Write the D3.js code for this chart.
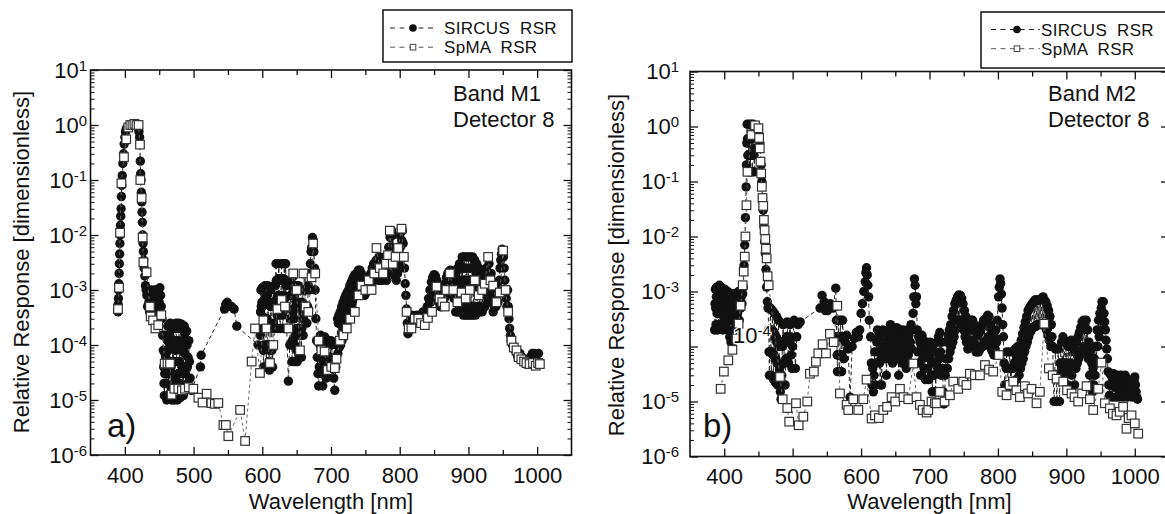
<!DOCTYPE html>
<html><head><meta charset="utf-8">
<script src="https://cdn.jsdelivr.net/npm/d3@7"></script>
<style>body{margin:0;background:#fff;} svg{display:block;font-family:"Liberation Sans",Arial,sans-serif;}</style>
</head><body><svg id="c" width="1165" height="514"></svg>
<script>
// ---------- tick labels / categories ----------
const xMajorTicks=[400,500,600,700,800,900,1000];
const xMinorTicks=[450,550,650,750,850,950];
const yDecades=[1e-6,1e-5,1e-4,1e-3,1e-2,1e-1,1,10];
const seriesNames=["SIRCUS  RSR","SpMA  RSR"];
const panelLabels=["a)","b)"];
const bandLabels=["Band M1","Band M2"];
const detectorLabel="Detector 8";
const xTitle="Wavelength [nm]";
const yTitle="Relative Response [dimensionless]";

// ---------- series values: [wavelength nm, relative response] ----------
const sircusA=[[390,4e-4],[390.3,5.5e-4],[390.6,7e-4],[391,1e-3],[391.3,1.3e-3],[391.7,2e-3],[392,3e-3],[392.4,4.5e-3],[392.8,7e-3],[393.2,1e-2],[393.6,1.5e-2],[394,2.2e-2],[394.5,3e-2],[395,5e-2],[395.6,8e-2],[396.2,0.12],[397,0.2],[398,0.3],[399,0.45],[400,0.6],[401,0.75],[402,0.85],[404,0.93],[406,0.97],[408,1],[411,1],[414,1],[417,1],[419,0.9],[420.5,0.75],[421.5,0.6],[422.5,0.22],[423,0.13],[423.5,0.1],[424,0.06],[424.5,0.04],[425,0.026],[425.5,0.017],[426,0.01],[426.5,0.007],[427,0.005],[427.5,0.0035],[428,0.0025],[429,0.0018],[430,0.0012],[431,0.001],
[432,8e-4],[433,5e-4],[434,1e-3],[435,6e-4],[436,4e-4],[437,9e-4],[438,5e-4],[439,1e-3],[440,7e-4],[441,4.5e-4],[442,9e-4],[443,6e-4],[444,1e-3],[445,5e-4],[446,1e-3],[447,6e-4],[448,4e-4],[449,9e-4],[450,6e-4],[451,1.1e-3],[452,8e-4],[453,5e-4],
[454,3e-4],[455,1.5e-4],[456,8e-5],[456.5,4e-5],[457,2e-5],[457.5,1.2e-5],[458,3e-5],[458.5,7e-5],[459,1.5e-4],[459.5,6e-5],[460,2e-5],[461,1e-5],[461.5,4e-5],[462,1.2e-4],[462.5,2.2e-4],[463,8e-5],[463.5,3e-5],[464,1.2e-5],[465,5e-5],[465.5,1.5e-4],[466,2.5e-4],[466.5,1e-4],[467,4e-5],[467.5,1.5e-5],[468,1e-5],[469,3e-5],[469.5,1e-4],[470,2e-4],[470.5,1.2e-4],[471,5e-5],[471.5,2e-5],[472,1e-5],[473,2.5e-5],[473.5,8e-5],[474,2e-4],[474.5,2.5e-4],[475,1.2e-4],[475.5,5e-5],[476,2e-5],[476.5,1e-5],[477,3e-5],[477.5,9e-5],[478,2e-4],[478.5,2.5e-4],[479,1.2e-4],[479.5,5e-5],[480,2e-5],[480.5,1.1e-5],[481,3e-5],[481.5,8e-5],[482,2e-4],[482.5,2.4e-4],[483,1e-4],[483.5,4e-5],[484,1.5e-5],[485,1.2e-5],[485.5,4e-5],[486,1.2e-4],[486.5,2.2e-4],[487,1.6e-4],[487.5,7e-5],[488,3e-5],[488.5,1.5e-5],[489,4e-5],[489.5,1.1e-4],[490,1.8e-4],[490.5,1e-4],[491,4e-5],[491.5,2e-5],[492,6e-5],[493,1.2e-4],[494,5e-5],[495,2.5e-5],[497,1.5e-5],[510,4e-5],[511,6.5e-5],
[545,4.5e-4],[547,5.5e-4],[549,6e-4],[551,5e-4],[555,5e-4],[559,4.5e-4],[563,2.2e-4],[594,1e-4],
[597,1.5e-4],[597.5,4e-4],[598,1e-3],[598.5,5e-4],[599,2e-4],[599.5,6e-4],[600,1.1e-3],[600.5,5e-4],[601,2e-4],[601.5,8e-5],[602,4e-5],[602.5,1e-4],[603,3e-4],[603.5,7e-4],[604,1.2e-3],[604.5,6e-4],[605,2.5e-4],[605.5,1e-4],[606,4e-5],[606.5,1e-4],[607,3e-4],[607.5,8e-4],[608,1.2e-3],[608.5,6e-4],[609,2.5e-4],[609.5,1e-4],[610,5e-5],[610.5,3.5e-5],[611,8e-5],[611.5,2e-4],[612,5e-4],[612.5,1e-3],[613,5e-4],[613.5,2e-4],[614,8e-5],[615,4e-5],[615.5,1e-4],[616,2.5e-4],[616.5,6e-4],[617,1.2e-3],[617.5,5e-4],[618,2e-4],[618.5,5e-4],[619,1.2e-3],
[620,3e-3],[620.5,1.5e-3],[621,7e-4],[621.5,3.5e-4],[622,2e-4],[622.5,4e-4],[623,8e-4],[623.5,1.6e-3],[624,3e-3],[624.5,1.5e-3],[625,7e-4],[625.5,3.5e-4],[626,2e-4],[626.5,4e-4],[627,8e-4],[627.5,1.6e-3],[628,3e-3],[628.5,1.5e-3],[629,7e-4],[629.5,3.5e-4],[630,2e-4],[630.5,4e-4],[631,8e-4],[631.5,1.6e-3],[632,3e-3],[632.5,1.5e-3],[633,7e-4],[633.5,1.5e-3],[634,3e-3],[634.5,1.2e-3],[635,5e-4],[635.5,2e-4],[638,2.2e-5],
[640,1e-4],[640.5,3e-4],[641,8e-4],[641.5,1.5e-3],[642,8e-4],[642.5,3e-4],[643,1e-4],[643.5,5e-5],[644,1.2e-4],[644.5,4e-4],[645,1e-3],[645.5,1.8e-3],[646,8e-4],[646.5,3e-4],[647,1e-4],[647.5,5e-5],[648,1.5e-4],[648.5,5e-4],[649,1.2e-3],[649.5,6e-4],[650,2e-4],[650.5,8e-5],[651,5e-5],[651.5,1.5e-4],[652,5e-4],[652.5,1.2e-3],[653,6e-4],[653.5,2e-4],[654,6e-5],[654.5,1.5e-4],[655,5e-4],[655.5,1e-3],[656,5e-4],[656.5,1.5e-4],[657,6e-5],[657.5,2e-4],[658,6e-4],[658.5,1e-3],[659,4e-4],[659.5,1.5e-4],[660,3e-4],[661,1e-3],[662,2e-3],[663,1e-3],[664,5e-4],[665,2.5e-4],[666,5e-4],[667,1.2e-3],[668,2e-3],[669,1e-3],[670,3e-3],[671,5e-3],[672,6e-3],[673,9e-3],[674,8e-3],[675,5e-3],[676,2.5e-3],[677,1e-3],[678,3e-4],[679,1.2e-4],
[680,6e-5],[681,3e-5],[682,1.8e-5],[683,4e-5],[684,1e-4],[685,1.5e-4],[686,8e-5],[687,3e-5],[688,1.8e-5],[689,5e-5],[690,1.2e-4],[691,1.4e-4],[692,6e-5],[693,2.5e-5],[694,4e-5],[695,1e-4],[696,1.2e-4],[697,6e-5],[698,3e-5],[699,6e-5],[700,1.2e-4],[701,1e-4],[702,5e-5],[704,2.5e-5],[705.5,1.5e-5],[707,4e-5],[708,1e-4],
[709,1e-4],[709.5,3e-4],[710,7e-5],[710.5,2.5e-4],[711,1e-4],[711.5,3.5e-4],[712,9e-5],[712.5,3e-4],[713,1.2e-4],[713.5,4e-4],[714,1e-4],[714.5,3.5e-4],[715,1.3e-4],[715.5,5e-4],[716,1.2e-4],[716.5,4.5e-4],[717,1.5e-4],[717.5,6e-4],[718,1.5e-4],[718.5,5e-4],[719,1.8e-4],[719.5,7e-4],[720,2e-4],[720.5,6e-4],[721,2.2e-4],[721.5,8e-4],[722,2.5e-4],[722.5,7e-4],[723,2.5e-4],[723.5,9e-4],[724,3e-4],[724.5,8e-4],[725,3e-4],[725.5,1e-3],[726,3.5e-4],[726.5,9e-4],[727,4e-4],[727.5,1.2e-3],[728,4e-4],[728.5,1.1e-3],[729,5e-4],[729.5,1.4e-3],[730,5e-4],[730.5,1.3e-3],[731,6e-4],[731.5,1.6e-3],[732,7e-4],[732.5,1.6e-3],[733,8e-4],[733.5,1.8e-3],[734,9e-4],[735,1.9e-3],[736,1.2e-3],[737,2e-3],
[738,2e-3],[739,1.2e-3],[740,2.3e-3],[741,1.3e-3],[742,2.3e-3],[743,1.2e-3],[744,2e-3],[745,1e-3],[746,1.6e-3],[747,9e-4],[748,1.3e-3],[749,8e-4],[750,1.3e-3],[751,9e-4],[752,1.5e-3],[753,1e-3],[754,1.7e-3],[755,1.1e-3],[756,1.8e-3],[757,1.3e-3],[758,2e-3],[759,1.4e-3],[760,2.5e-3],[761,1.5e-3],[762,3e-3],[763,1.5e-3],[764,2.2e-3],[765,1.6e-3],[766,3.5e-3],[767,1.6e-3],[768,2.5e-3],[769,1.5e-3],[770,4e-3],[771,1.8e-3],[772,3e-3],[773,1.5e-3],[774,2e-3],[775,1.5e-3],[776,2.5e-3],[777,1.6e-3],[778,4e-3],[779,1.8e-3],[780,2.2e-3],[781,1.5e-3],[782,3e-3],[783,2e-3],[784,6e-3],[785,3e-3],[786,9e-3],[787,5e-3],[788,1.2e-2],[789,6e-3],[790,1e-2],[791,3e-3],[792,5e-3],[793,1.8e-3],[794,2.5e-3],[795,1.5e-3],[796,3e-3],[797,2e-3],[798,6e-3],[799,3e-3],[800,1e-2],[801,6e-3],[802,1.3e-2],[803,8e-3],[804,1.2e-2],[805,7e-3],[806,4e-3],[807,2.5e-3],[808,1.3e-3],[809,8e-4],[810,4.5e-4],[811,2.5e-4],[812,1.6e-4],[814,2e-4],[816,3e-4],[818,3.5e-4],[820,2.5e-4],[822,3e-4],[825,3.5e-4],[828,2.5e-4],[831,3e-4],[834,4e-4],[837,3.5e-4],
[840,5e-4],[841,3.5e-4],[842,7e-4],[843,4e-4],[844,1e-3],[845,6e-4],[846,1.4e-3],[847,7e-4],[848,1.7e-3],[849,9e-4],[850,1.9e-3],[851,1e-3],[852,1.8e-3],[853,9e-4],[854,1.5e-3],[855,7e-4],[856,1.1e-3],[857,6e-4],[858,8e-4],[859,5e-4],[860,7e-4],[861,5e-4],[862,8e-4],[863,6e-4],[864,1e-3],[865,7e-4],[866,1.3e-3],[867,8e-4],[868,1.7e-3],[869,1e-3],[870,2e-3],[871,1.1e-3],[872,2.2e-3],[873,1.2e-3],[874,2.3e-3],[875,1.2e-3],[876,2e-3],[877,1e-3],[878,1.5e-3],[879,7e-4],
[880,1e-3],[880.5,1.8e-3],[881,7e-4],[881.5,4e-4],[882,1e-3],[882.5,2.2e-3],[883,9e-4],[883.5,4e-4],[884,1e-3],[884.5,2.5e-3],[885,1e-3],[885.5,4e-4],[886,1e-3],[886.5,2.5e-3],[887,3e-3],[887.5,1.2e-3],[888,4e-4],[888.5,1e-3],[889,2.5e-3],[889.5,1.5e-3],
[890,1e-3],[890.5,2.5e-3],[891,4e-3],[891.5,1.5e-3],[892,5e-4],[892.5,3.5e-4],[893,1e-3],[893.5,2.5e-3],[894,4e-3],[894.5,1.5e-3],[895,5e-4],[895.5,3.5e-4],[896,1e-3],[896.5,2.5e-3],[897,4e-3],[897.5,1.5e-3],[898,5e-4],[898.5,3.5e-4],[899,1e-3],[899.5,2.5e-3],[900,4e-3],[900.5,1.5e-3],[901,5e-4],[901.5,3.5e-4],[902,1e-3],[902.5,2.5e-3],[903,4e-3],[903.5,1.5e-3],[904,5e-4],[904.5,3.5e-4],[905,1e-3],[905.5,2.5e-3],[906,4e-3],[906.5,1.5e-3],[907,5e-4],[907.5,3.5e-4],[908,1e-3],[908.5,2.5e-3],[909,3.5e-3],[909.5,1.5e-3],[910,5e-4],[910.5,3.5e-4],[911,1e-3],[911.5,2e-3],[912,3e-3],[912.5,1.2e-3],[913,5e-4],[913.5,4e-4],[914,8e-4],[914.5,1.5e-3],[915,2.5e-3],[915.5,1e-3],[916,5e-4],[916.5,4e-4],[917,8e-4],[917.5,1.5e-3],[918,2e-3],[919,8e-4],[920,4e-4],[921,1e-3],[922,2e-3],[923,8e-4],[924,5e-4],[925,1.2e-3],[926,2.5e-3],[927,1.2e-3],[928,6e-4],[929,1.5e-3],[930,3e-3],[931,1.5e-3],[932,8e-4],[933,2e-3],[934,1e-3],[935,6e-4],[936,4e-4],[937,8e-4],[938,5e-4],[939,1e-3],[940,5e-4],[941,8e-4],[942,1.2e-3],[943,6e-4],[944,1e-3],[945,1.5e-3],[946,2.5e-3],[947,3.5e-3],[948,4.5e-3],[949,5.5e-3],[950,5e-3],[951,4e-3],[952,2.5e-3],[953,1.5e-3],[954,1e-3],[955,7e-4],[956,5e-4],[957,1e-3],[958,5e-4],[959,3e-4],[960,2e-4],[961,1.5e-4],[962,1.2e-4],[964,1e-4],[966,9e-5],[968,8e-5],[970,7e-5],[972,6e-5],[975,7e-5],[978,6e-5],[981,5e-5],[984,4.5e-5],[987,5e-5],[990,6e-5],[993,7e-5],[996,7e-5],[999,6.5e-5],[1002,7e-5]];

const spmaA=[[390,4.5e-4],[391.5,1.1e-3],[393,1.1e-2],[395,8.7e-2],[398.7,0.26],[402,0.55],[405,0.9],[408,1],[411,1],[414,1.05],[417,1],[420,1],[422,0.44],[422.5,0.1],[424.4,0.047],[425.9,9e-3],[427,3.2e-3],[431.6,2.1e-3],[436.5,5e-4],[437.5,3.3e-4],[441,2.8e-4],[444.5,2e-4],[448.6,2.3e-4],[453,3.5e-4],[458,4.6e-5],[462,4.6e-5],[465.7,4.6e-5],[468,1.25e-5],[472,1.6e-5],[477.8,1.6e-5],[483,1.5e-5],[487.5,1.6e-5],[493,1.7e-5],[499.6,1.6e-5],[507,1.1e-5],[513,9e-6],[519,1.3e-5],[526,8.8e-6],[531,8.5e-6],[536,8.8e-6],[543.4,3.5e-6],[547,3.5e-6],[550.6,2.2e-6],[567.8,6.6e-6],[575,1.8e-6],[584.5,5e-5],[589.4,2e-4],[596.6,3.1e-5],[601.5,2.8e-4],[606,2e-4],[611.2,4.7e-5],[616,1e-4],[622,4.5e-4],[628.2,6.6e-4],[633,5e-4],[638,2e-4],[645,2e-3],[650,1e-3],[654.8,8e-5],[660,2e-3],[663,5e-4],[667,4e-4],[671.7,1.7e-3],[674,7e-3],[677,2e-3],[682,1.2e-4],[686,8e-5],[690.7,7.6e-5],[695,3.5e-5],[700.4,4e-5],[705.6,3.8e-5],[708,5.6e-5],[713,1.2e-4],[718,1.5e-4],[723,2e-4],[728,3e-4],[734.7,4e-4],[740,8e-4],[744.4,1.2e-3],[750,1e-3],[755,1.5e-3],[759,1e-3],[763,2e-3],[766.2,5.8e-3],[771,2.5e-3],[776,2e-3],[780,3e-3],[783,4.3e-3],[785.6,1.2e-2],[790,3e-3],[794,4e-3],[797.7,5.8e-3],[802.6,1.3e-2],[806,4e-3],[810,4e-4],[813,2e-4],[817,2e-4],[822,3e-4],[827,3e-4],[831,2.5e-4],[836.5,2.3e-4],[841,3.1e-4],[847,4e-4],[853.5,1.15e-3],[858,7e-4],[862,6e-4],[865.6,5e-4],[868,1e-3],[873,2e-3],[878,1e-3],[884,6e-4],[890,9e-4],[896,7e-4],[902,1e-3],[909.3,1.5e-3],[915,8e-4],[920,1e-3],[923.8,1.3e-3],[928.7,4e-3],[932,1.5e-3],[936,1.2e-3],[940.8,6e-4],[945.6,9e-4],[950.5,5.2e-3],[954,1e-3],[957.8,4e-4],[962.6,1.2e-4],[966,9e-5],[970,8e-5],[973,6e-5],[977,5.5e-5],[981,5e-5],[984.5,4.7e-5],[989,4.5e-5],[994,4.7e-5],[998,4.2e-5],[1001.4,4.7e-5],[1004,4.5e-5]];

const sircusB=[[386,2e-4],[386.5,6e-4],[387,1.1e-3],[387.5,5e-4],[388,2.5e-4],[388.5,8e-4],[389,1.2e-3],[389.5,4e-4],[390,2e-4],[390.5,7e-4],[391,1.2e-3],[391.5,5e-4],[392,2.5e-4],[392.5,9e-4],[393,1.3e-3],[393.5,4e-4],[394,2.2e-4],[394.5,7e-4],[395,1.2e-3],[395.5,5e-4],[396,2.5e-4],[396.5,8e-4],[397,1.1e-3],[397.5,4e-4],[398,2e-4],[398.5,7e-4],[399,1.1e-3],[399.5,5e-4],[400,3e-4],[400.5,8e-4],[401,1.1e-3],[401.5,4.5e-4],[402,2.5e-4],[402.5,7e-4],[403,1e-3],[403.5,5e-4],[404,3e-4],[404.5,8e-4],[405,1e-3],[405.5,4e-4],[406,2e-4],[406.5,6e-4],[407,9e-4],[407.5,4e-4],[408,1.5e-4],[408.5,5e-4],[409,9e-4],[409.5,3e-4],[410,1.2e-4],[410.5,4e-4],[411,8e-4],[411.5,3e-4],[412,1.2e-4],[412.5,5e-4],[413,9e-4],[413.5,3e-4],[414,1.3e-4],[414.5,5e-4],[415,9e-4],[415.5,4e-4],[416,2e-4],[416.5,6e-4],[417,9e-4],[417.5,4e-4],[418,2.5e-4],[418.5,6e-4],[419,9e-4],[419.5,4e-4],[420,3e-4],[420.5,7e-4],[421,1e-3],[421.5,5e-4],[422,3e-4],[423,7e-4],[424,5e-4],[425,8e-4],[426,6e-4],[427,9e-4],
[428,1.2e-3],[429,3e-3],[430,7e-3],[431,2.2e-2],[432,0.08],[432.5,0.2],[433,0.5],[433.5,1.1],[434,0.6],[434.5,0.3],[435,0.15],[435.5,0.3],[436,0.6],[436.5,1.1],[437,0.6],[437.5,0.3],[438,0.15],[438.5,0.3],[439,0.6],[439.5,1.1],[440,0.6],[440.5,0.3],[441,0.15],[441.5,0.3],[442,0.6],[442.5,1.1],[443,0.6],[443.5,0.3],[444,0.15],[444.5,0.4],[445,1.0],[446,1.0],[448,1.0],[450,0.9],[452,0.5],[454,0.2],[455,0.1],[456,0.05],[457,0.03],[458,0.015],[459,0.008],[460,0.005],[461,0.0025],[462,0.0012],[463,6.5e-4],
[464,5e-4],[465,2e-4],[465.5,8e-5],[466,3e-5],[466.5,8e-5],[467,2e-4],[467.5,5e-4],[468,2e-4],[468.5,8e-5],[469,3e-5],[469.5,8e-5],[470,2e-4],[470.5,4.5e-4],[471,1.8e-4],[471.5,7e-5],[472,2.5e-5],[472.5,7e-5],[473,1.8e-4],[473.5,4e-4],[474,1.5e-4],[474.5,6e-5],[475,2.2e-5],[475.5,6e-5],[476,1.5e-4],[476.5,3.5e-4],[477,1.2e-4],[477.5,5e-5],[478,2e-5],[478.5,5e-5],[479,1.3e-4],[479.5,3e-4],[480,1e-4],[481,4e-5],[482,1.5e-5],[483,1.1e-5],[484,3e-5],[485,1e-4],[486,2.5e-4],[487,1.2e-4],[488,5e-5],[489,2e-5],[490,6e-5],[491,1.5e-4],[492,2.8e-4],[493,1.3e-4],[494,5e-5],[495,1.2e-4],[496,2.5e-4],[497,1.5e-4],[498,7e-5],[499,4e-5],[500,1e-4],[502,3e-4],[504,4e-5],[506,1.5e-4],[508,2.5e-4],[511,2.8e-4],
[540,5e-4],[543,8.5e-4],[546,6.5e-4],[548,4.5e-4],[551,4.5e-4],[555,6e-4],[559,5e-4],[563,1.15e-3],[564,3e-4],[564.5,1.5e-4],[565,7e-5],[565.5,3.5e-5],[566,7e-5],[566.5,1.5e-4],[567,3e-4],[567.5,1.5e-4],[568,7e-5],[568.5,3.5e-5],[569,7e-5],[569.5,1.5e-4],[570,3e-4],[570.5,1.5e-4],[571,7e-5],[571.5,3.5e-5],[572,7e-5],[572.5,1.5e-4],[573,3e-4],[574,1.5e-4],[575,6e-5],
[577,1.2e-4],[579,1.6e-4],[581,9e-5],[584,1.2e-5],[587,1e-4],[590,1.4e-4],[593,1.8e-4],[596,1.5e-4],[598,2e-4],[600,4e-4],[602,6e-4],[604,1e-3],[606,1.5e-3],[607,2.2e-3],[608,2.7e-3],[609,2e-3],[610,1.3e-3],[611,8e-4],[612,3e-4],
[614,1.5e-4],[615,5e-5],[616,2e-5],[617,4e-5],[618,1.5e-5],[619,3e-5],[620,8e-5],[621,2e-5],[622,5e-5],[623,1.2e-4],[624,2e-4],[625,8e-5],[626,1.5e-4],[627,5e-5],[628,2e-5],[629,6e-5],[630,2e-5],[631,1e-4],[632,2e-4],[633,8e-5],[634,1.8e-4],[635,6e-5],[636,1.2e-4],[637,3e-5],[638,8e-5],[639,1.6e-4],[640,6e-5],[641,2e-4],[642,1e-4],[643,2.5e-4],[644,8e-5],[645,1.5e-4],[646,5e-5],[647,1.2e-4],[648,2e-4],[649,7e-5],[650,1.8e-4],[651,1e-4],[652,2.2e-4],[653,6e-5],[654,1.3e-4],[655,3e-5],[656,9e-5],[657,2e-4],[658,8e-5],[659,1.6e-4],[660,5e-5],[661,2e-4],[662,1e-4],[663,1.8e-4],[664,6e-5],[665,1.4e-4],[666,4e-5],[667,1e-4],[668,2e-4],[669,7e-5],[670,1.6e-4],[671,5e-5],[672,1.2e-4],[673,2.5e-4],[674,9e-5],[675,2e-4],[676,4e-4],[677,8e-4],[678,1.7e-3],[679,1.3e-3],[680,6e-4],[681,8e-4],[682,2e-4],[683,8e-5],[684,1.5e-4],[685,5e-5],[686,1.2e-4],[687,3e-5],[688,1e-4],[689,1.6e-4],[690,6e-5],[691,1.3e-4],[692,4e-5],[693,9e-5],[694,2.5e-5],[695,7e-5],[696,1.2e-4],[697,4e-5],[698,1e-4],[699,2.5e-5],[700,6e-5],[701,1.2e-4],[702,3e-5],[703,8e-5],[704,1.5e-5],[705,5e-5],[706,1.1e-4],[707,3e-5],[708,8e-5],[709,1.5e-5],[710,5e-5],[711,1.2e-4],[712,4e-5],[713,1.5e-4],[714,6e-5],[715,1.8e-4],[716,8e-5],[717,3e-5],[718,1.2e-4],[719,4e-5],[720,1.5e-5],[721,9e-6],
[722,1e-5],[723,3e-5],[724,6e-5],[725,1.2e-4],[726,4e-5],[727,1.6e-4],[728,6e-5],[729,2e-4],[730,8e-5],[731,2.5e-4],[732,1e-4],[733,3.5e-4],[734,1.2e-4],[735,4.5e-4],[736,1.5e-4],[737,6e-4],[738,2e-4],[739,7e-4],[740,3e-4],[741,8e-4],[742,3e-4],[743,8.7e-4],[744,3e-4],[745,8.5e-4],[746,2.5e-4],[747,7.5e-4],[748,2.5e-4],[749,6e-4],[750,2e-4],[751,4.5e-4],[752,1.5e-4],[753,3.5e-4],[754,1.2e-4],[755,2.5e-4],[756,9e-5],[757,2e-4],
[758,1e-4],[759,2.5e-4],[760,1.2e-4],[761,3e-4],[762,1.3e-4],[763,3e-4],[764,1.2e-4],[765,2.5e-4],[766,1e-4],[767,2e-4],[768,8e-5],[769,1.8e-4],[770,8e-5],[771,1.6e-4],[772,8e-5],[773,1.8e-4],[774,9e-5],[775,2e-4],[776,1e-4],[777,2.5e-4],[778,1e-4],[779,3e-4],[780,1.2e-4],[781,3e-4],[782,1.2e-4],[783,3.3e-4],[784,1.3e-4],[785,3.7e-4],[786,1.5e-4],[787,3.5e-4],[788,1.2e-4],[789,2.5e-4],[790,9e-5],[791,2e-4],[792,8e-5],[793,1.6e-4],[794,7e-5],[795,1.5e-4],[796,9e-5],[797,2e-4],[798,1.2e-4],[799,3e-4],[801,8e-4],[802,1.2e-3],[803,1.7e-3],[804,1.4e-3],[805,9e-4],[806,5e-4],[807,2.5e-4],[808,1.5e-4],
[809,5e-5],[810,2e-5],[811,1.5e-5],[812,4e-5],[813,8e-5],[814,4e-5],[815,1.8e-5],[816,4e-5],[817,8e-5],[818,4e-5],[819,2e-5],[820,4e-5],[821,8e-5],[822,4e-5],[823,2e-5],[824,5e-5],[825,9e-5],[826,5e-5],[827,2.5e-5],[828,6e-5],[829,1e-4],[830,8e-5],[831,3e-5],[832,1e-4],[833,4e-5],[834,1.3e-4],[835,5e-5],[836,1.7e-4],[837,6e-5],[838,2.2e-4],[839,8e-5],[840,2.8e-4],[841,1e-4],[842,3.5e-4],[843,1.2e-4],[844,4.5e-4],[845,1.5e-4],[846,5e-4],[847,1.8e-4],[848,5.5e-4],[849,2e-4],[850,6e-4],[851,2.2e-4],[852,6.5e-4],[853,2.3e-4],[854,7e-4],[855,2.3e-4],[856,7e-4],[857,2.5e-4],[858,7e-4],[859,2.5e-4],[860,7e-4],[861,2.5e-4],[862,7e-4],[863,2.5e-4],[864,7.5e-4],[865,2.5e-4],[866,8e-4],[867,2.5e-4],[868,7e-4],[869,2.3e-4],[870,6.5e-4],[871,2e-4],[872,5.5e-4],[873,1.6e-4],[874,4.5e-4],[875,1.3e-4],[876,3.5e-4],[877,1e-4],[878,2.5e-4],[879,1.5e-4],
[880,1e-4],[881,3e-5],[882,1e-5],[883,3e-5],[884,9e-5],[885,3e-5],[886,1e-5],[887,3e-5],[888,9e-5],[889,3e-5],[890,1e-5],[891,5e-5],[893,1.2e-4],[894,4e-5],[895,1.5e-4],[896,5e-5],[897,1.3e-4],[898,3e-5],[899,1.2e-4],[900,5e-5],[901,1.1e-4],[902,2e-5],[903,1e-4],[904,4e-5],[905,1.2e-4],[906,5e-5],[907,1.3e-4],[908,3e-5],[909,1e-4],[910,4e-5],[911,9e-5],[912,2e-5],[913,8e-5],[914,4e-5],[915,1.2e-4],[916,5e-5],[917,1.5e-4],[918,6e-5],[919,1.8e-4],[920,7e-5],[921,2.2e-4],[922,8e-5],[923,2.8e-4],[924,9e-5],[925,3e-4],[926,1e-4],[927,2.5e-4],[928,8e-5],[929,3e-4],[930,1e-4],[931,2e-4],[932,6e-5],[933,1.2e-4],[934,3e-5],[935,8e-5],[936,2e-5],[937,5e-5],[938,1.5e-5],[939,4e-5],[940,2e-5],[941,6e-5],[942,3e-5],[943,1e-4],[944,5e-5],[945,2e-4],[946,1e-4],[947,3e-4],[948,1.5e-4],[949,4e-4],[950,2e-4],[951,5e-4],[952,6.5e-4],[953,3e-4],[954,6.5e-4],[955,4e-4],[956,2.8e-4],[957,2e-4],[958,1.3e-4],[959,9e-5],[960,6e-5],
[961,3.5e-5],[962,2e-5],[963,1.3e-5],[964,2e-5],[965,3e-5],[966,2e-5],[967,1.2e-5],[968,2.2e-5],[969,3.2e-5],[970,2.5e-5],[971,1.8e-5],[972,1.2e-5],[973,1.8e-5],[974,2.5e-5],[975,3e-5],[976,1.8e-5],[977,1.2e-5],[978,1.5e-5],[979,2.2e-5],[980,3e-5],[981,2e-5],[982,1.5e-5],[983,1.2e-5],[984,1.8e-5],[985,2.5e-5],[986,3e-5],[987,2e-5],[988,1.5e-5],[989,1.2e-5],[990,1.5e-5],[991,2e-5],[992,2.5e-5],[993,2e-5],[994,1.6e-5],[995,1.3e-5],[996,1.2e-5],[997,1.6e-5],[998,2e-5],[999,2.4e-5],[1000,2.8e-5],[1001,2e-5],[1002,1.5e-5],[1003,1.2e-5],[1004,1.1e-5]];

const spmaB=[[394.8,1.7e-5],[399.5,3.5e-5],[406,5.6e-5],[412,8.7e-5],[418,1.4e-4],[421,2.6e-4],[424,5.5e-4],[427,1.3e-3],[428.5,2.3e-3],[430,4.3e-3],[431,1e-2],[432.5,3.7e-2],[434,0.15],[440,0.7],[445,1.05],[450,0.93],[451,0.62],[452,0.4],[453,0.23],[454,0.14],[455,0.08],[456,0.05],[457,0.036],[458,0.02],[459,0.013],[460,9e-3],[461,6e-3],[462,4e-3],[463.5,1.9e-3],[465,1.3e-3],[481.5,2.8e-5],[485.4,1.1e-5],[492.2,7.6e-6],[495,4.3e-6],[504.9,9.3e-6],[508.8,3.7e-6],[515.6,5.3e-6],[521.4,1e-5],[525.3,3.2e-5],[531,3.5e-5],[534,5.3e-5],[537.5,7.5e-5],[543.8,1.1e-4],[548.7,7.5e-5],[554.5,1.7e-4],[560,1.2e-4],[565.2,5.5e-4],[569.1,1.4e-5],[578.9,8.7e-6],[581.3,7e-6],[588.6,1.1e-5],[596,7e-6],[603.2,1.1e-5],[608,2.5e-5],[615.4,4.9e-6],[620.3,5.6e-6],[626,5e-6],[632.4,7e-6],[638,8e-6],[644.6,1.2e-5],[650,1e-5],[656.8,1.7e-5],[662,1.2e-5],[669,1.1e-5],[676.3,4.9e-5],[681,1.2e-5],[686,8.7e-6],[690,7e-6],[695.8,6.3e-6],[698.2,7e-6],[703,1e-5],[707.9,9.3e-6],[710.4,9.3e-6],[715.2,1.5e-5],[722,1e-5],[729.8,1.3e-5],[734.7,2.3e-5],[742,1.7e-5],[749.3,2.3e-5],[754,2e-5],[759,3.2e-5],[766.4,3e-5],[773.7,3e-5],[781,4.6e-5],[787,3.8e-5],[793.1,3.5e-5],[801.4,7e-5],[806.3,1.5e-5],[812.6,1.3e-5],[817,2e-5],[822.4,2.3e-5],[827,1.6e-5],[832.1,1.2e-5],[839.4,1.9e-5],[844,1.4e-5],[849.1,1.7e-5],[856.4,9.3e-6],[861.3,1.5e-5],[867.6,2.6e-4],[874.5,4e-5],[880,3e-5],[885.7,2.6e-5],[895.4,2.3e-5],[901,1.6e-5],[907.6,1.4e-5],[912,1.2e-5],[917.3,1e-5],[923,1.4e-5],[929.5,1.9e-5],[934.4,1.1e-5],[939.2,7e-6],[946.5,1.7e-5],[951.4,5.1e-5],[956.3,9.3e-6],[963.6,7.5e-6],[968,6e-6],[973.3,5.6e-6],[978,6.5e-6],[983,8e-6],[987.9,3.2e-6],[991,5e-6],[995.2,5.6e-6],[1000,4e-6],[1005,2.6e-6]];

// ---------- drawing ----------
const FONT='"Liberation Sans", Arial, sans-serif';
const svg=d3.select('#c');
const minorY=[];
[-6,-5,-4,-3,-2,-1,0].forEach(e=>{for(let k=2;k<=9;k++)minorY.push(k*Math.pow(10,e));});

function styleAxis(g){
  g.attr('font-family',FONT).attr('color','#111');
  g.select('.domain').remove();
  g.selectAll('.tick line').attr('stroke-width',1.3);
}

function drawPanel(p){
  const x=d3.scaleLinear().domain([350,1050]).range([p.left,p.right]);
  const y=d3.scaleLog().domain([1e-6,10]).range([p.bottom,p.top]);
  const g=svg.append('g');
  const clipId='clip'+p.id;
  svg.append('clipPath').attr('id',clipId).append('rect')
    .attr('x',p.left).attr('y',p.top).attr('width',p.right-p.left).attr('height',p.bottom-p.top);
  const line=d3.line().x(d=>x(d[0])).y(d=>y(d[1]));
  const dg=g.append('g').attr('clip-path',`url(#${clipId})`);
  dg.append('path').datum(p.sircus).attr('d',line).attr('fill','none')
    .attr('stroke','#222').attr('stroke-width',1).attr('stroke-dasharray','4,3');
  dg.append('g').selectAll('circle').data(p.sircus).join('circle')
    .attr('cx',d=>x(d[0])).attr('cy',d=>y(d[1])).attr('r',4.7).attr('fill','#111');
  dg.append('path').datum(p.spma).attr('d',line).attr('fill','none')
    .attr('stroke','#666').attr('stroke-width',1).attr('stroke-dasharray','3,3');
  dg.append('g').selectAll('rect').data(p.spma).join('rect')
    .attr('x',d=>x(d[0])-4.3).attr('y',d=>y(d[1])-4.3).attr('width',8.6).attr('height',8.6)
    .attr('fill','#fff').attr('stroke','#333').attr('stroke-width',1.2);

  // bottom axis
  const xb=g.append('g').attr('transform',`translate(0,${p.bottom})`)
    .call(d3.axisBottom(x).tickValues(xMajorTicks).tickSizeInner(-8).tickSizeOuter(0).tickPadding(12).tickFormat(d3.format('d')));
  styleAxis(xb); xb.attr('font-size',22);
  xb.selectAll('text').attr('fill','#111');
  const xbm=g.append('g').attr('transform',`translate(0,${p.bottom})`)
    .call(d3.axisBottom(x).tickValues(xMinorTicks).tickSizeInner(-5).tickSizeOuter(0).tickFormat(''));
  styleAxis(xbm);
  // top axis
  const xt=g.append('g').attr('transform',`translate(0,${p.top})`)
    .call(d3.axisTop(x).tickValues(xMajorTicks).tickSizeInner(-8).tickSizeOuter(0).tickFormat(''));
  styleAxis(xt);
  const xtm=g.append('g').attr('transform',`translate(0,${p.top})`)
    .call(d3.axisTop(x).tickValues(xMinorTicks).tickSizeInner(-5).tickSizeOuter(0).tickFormat(''));
  styleAxis(xtm);
  // left axis
  const yl=g.append('g').attr('transform',`translate(${p.left},0)`)
    .call(d3.axisLeft(y).tickValues(yDecades).tickSizeInner(-8).tickSizeOuter(0).tickPadding(p.yPad).tickFormat(()=>''));
  styleAxis(yl); yl.attr('font-size',22);
  yl.selectAll('.tick text').attr('fill','#111').each(function(d){
    const e=Math.round(Math.log10(d));
    if(p.skipExp.includes(e))return;
    const t=d3.select(this);
    t.append('tspan').text('10');
    t.append('tspan').attr('dy',-7).attr('font-size',15).text(String(e));
  });
  const ylm=g.append('g').attr('transform',`translate(${p.left},0)`)
    .call(d3.axisLeft(y).tickValues(minorY).tickSizeInner(-4).tickSizeOuter(0).tickFormat(()=>''));
  styleAxis(ylm); ylm.selectAll('.tick line').attr('stroke-width',1);
  // right axis
  const yr=g.append('g').attr('transform',`translate(${p.right},0)`)
    .call(d3.axisRight(y).tickValues(yDecades).tickSizeInner(-8).tickSizeOuter(0).tickFormat(()=>''));
  styleAxis(yr);
  const yrm=g.append('g').attr('transform',`translate(${p.right},0)`)
    .call(d3.axisRight(y).tickValues(minorY).tickSizeInner(-4).tickSizeOuter(0).tickFormat(()=>''));
  styleAxis(yrm); yrm.selectAll('.tick line').attr('stroke-width',1);

  // frame
  g.append('rect').attr('x',p.left).attr('y',p.top).attr('width',p.right-p.left).attr('height',p.bottom-p.top)
    .attr('fill','none').attr('stroke','#111').attr('stroke-width',1.6);

  // titles
  g.append('text').attr('x',(p.left+p.right)/2).attr('y',509).attr('text-anchor','middle')
    .attr('font-family',FONT).attr('font-size',22).attr('fill','#111').text(xTitle);
  g.append('text').attr('transform',`translate(${p.yTitleX},${p.yTitleY}) rotate(-90)`).attr('text-anchor','middle')
    .attr('font-family',FONT).attr('font-size',22).attr('fill','#111').text(yTitle);
  // annotations
  g.append('text').attr('x',p.annX).attr('y',101).attr('font-family',FONT).attr('font-size',22).attr('fill','#111').text(p.band);
  g.append('text').attr('x',p.annX).attr('y',127).attr('font-family',FONT).attr('font-size',22).attr('fill','#111').text(detectorLabel);
  g.append('text').attr('x',p.labX).attr('y',437).attr('font-family',FONT).attr('font-size',33).attr('fill','#111').text(p.panel);
  if(p.strayExp!==undefined){
    const t=g.append('text').attr('x',p.strayX).attr('y',p.strayY).attr('font-family',FONT).attr('font-size',22)
      .attr('fill','#111').attr('stroke','#fff').attr('stroke-width',2.5).attr('paint-order','stroke');
    t.append('tspan').text('10');
    t.append('tspan').attr('dy',-7).attr('font-size',15).text(String(p.strayExp));
  }

  // legend
  const L=p.legend;
  g.append('rect').attr('x',L.x).attr('y',L.y).attr('width',L.w).attr('height',L.h)
    .attr('fill','#fff').attr('stroke','#111').attr('stroke-width',1.5);
  seriesNames.forEach((name,i)=>{
    const cy=L.rowY[i];
    g.append('line').attr('x1',L.lx1).attr('x2',L.lx2).attr('y1',cy).attr('y2',cy)
      .attr('stroke',i===0?'#222':'#555').attr('stroke-width',1).attr('stroke-dasharray','5,4.5');
    if(i===0){
      g.append('circle').attr('cx',L.mx).attr('cy',cy).attr('r',3.8).attr('fill','#111');
    } else {
      g.append('rect').attr('x',L.mx-2.8).attr('y',cy-2.8).attr('width',5.6).attr('height',5.6)
        .attr('fill','#fff').attr('stroke','#444').attr('stroke-width',1);
    }
    g.append('text').attr('x',L.tx).attr('y',cy+6).attr('font-family',FONT).attr('font-size',17)
      .attr('letter-spacing',0.3)
      .attr('fill','#111').attr('xml:space','preserve').style('white-space','pre').text(name);
  });
}

drawPanel({id:'a',left:90.5,right:571.5,top:70,bottom:455,yPad:3.5,skipExp:[],
  sircus:sircusA,spma:spmaA,band:bandLabels[0],panel:panelLabels[0],annX:453,labX:107,
  yTitleX:29,yTitleY:262,
  legend:{x:383,y:10,w:189,h:52,rowY:[28,47.2],lx1:390,lx2:437,mx:413,tx:444}});
drawPanel({id:'b',left:690,right:1169,top:71.5,bottom:456.5,yPad:11,skipExp:[-4],
  sircus:sircusB,spma:spmaB,band:bandLabels[1],panel:panelLabels[1],annX:1048,labX:703,
  yTitleX:624,yTitleY:265,strayExp:-4,strayX:733,strayY:343,
  legend:{x:981,y:12,w:200,h:56,rowY:[29.5,48.7],lx1:991,lx2:1040,mx:1017,tx:1041}});
</script></body></html>
